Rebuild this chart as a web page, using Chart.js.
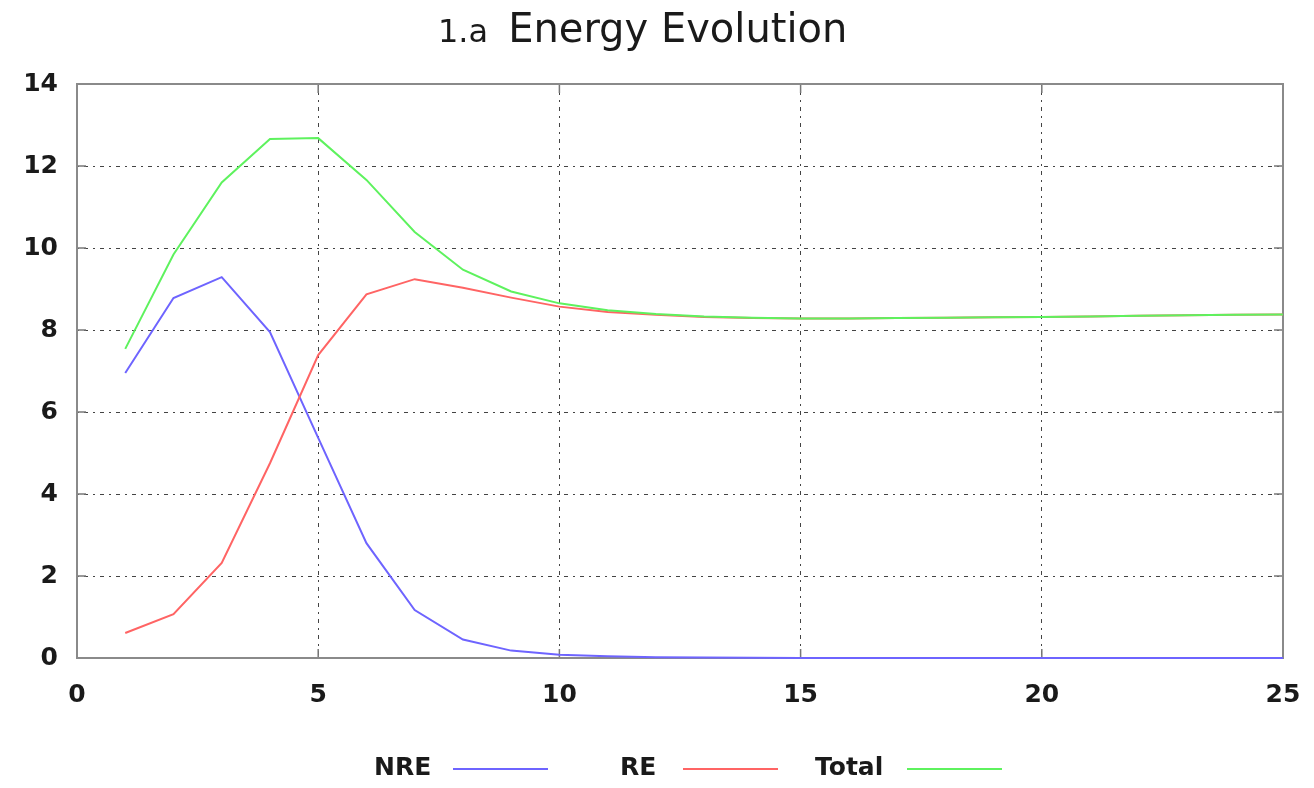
<!DOCTYPE html>
<html>
<head>
<meta charset="utf-8">
<script src="https://cdn.jsdelivr.net/npm/chart.js@4"></script>
<style>
  html, body { margin: 0; padding: 0; background: #fff; }
  #wrap { position: relative; width: 1314px; height: 788px; }
  #titulo { position: absolute; top: 5px; left: 438px; white-space: nowrap;
            font-family: "DejaVu Sans", sans-serif; color: #1a1a1a; }
  #titulo .num { font-size: 32px; }
  #titulo .txt { font-size: 40px; margin-left: 20px; }
  #leyenda { position: absolute; top: 752px; left: 0; width: 1314px; height: 34px;
             font-family: "DejaVu Sans", sans-serif; font-size: 25px; font-weight: bold; color: #1a1a1a; }
  .item { position: absolute; display: flex; align-items: center; }
  .linea { display: inline-block; height: 2px; width: 95px; }
</style>
</head>
<body>
<div id="wrap">
  <canvas id="grafica" width="1314" height="788"></canvas>
  <div id="titulo"><span class="num">1.a</span><span class="txt">Energy Evolution</span></div>
  <div id="leyenda"></div>
</div>
<script>
// Energy Evolution: NRE, RE y Total por paso de tiempo

var pasos = [1,2,3,4,5,6,7,8,9,10,11,12,13,14,15,16,17,18,19,20,21,22,23,24,25];
var nreValues = [6.95,8.78,9.29,7.95,5.37,2.80,1.17,0.45,0.18,0.08,0.04,0.02,0.01,0.005,0.003,0.002,0.001,0,0,0,0,0,0,0,0];
var reValues = [0.61,1.07,2.32,4.75,7.39,8.87,9.24,9.03,8.79,8.57,8.44,8.37,8.32,8.29,8.28,8.28,8.29,8.30,8.31,8.32,8.33,8.35,8.36,8.37,8.38];
var totalValues = [7.54,9.84,11.60,12.66,12.68,11.66,10.39,9.47,8.94,8.65,8.48,8.39,8.33,8.30,8.28,8.28,8.29,8.30,8.31,8.32,8.33,8.35,8.36,8.37,8.38];
var xTicks = [0,5,10,15,20,25];
var yTicks = [0,2,4,6,8,10,12,14];

var nombres = ["NRE", "RE", "Total"];
var colores = ["#6e64ff", "#ff6464", "#5ef25e"];
var series = [nreValues, reValues, totalValues];

function puntos(valores) {
  return pasos.map(function (p, i) { return { x: p, y: valores[i] }; });
}

// marco gris alrededor del area de la grafica + marcas hacia adentro
// (se dibuja antes de las lineas, la NRE queda encima del borde inferior)
var marco = {
  id: "marco",
  beforeDatasetsDraw: function (chart) {
    var a = chart.chartArea, ctx = chart.ctx;
    var sx = chart.scales.x, sy = chart.scales.y;
    ctx.save();
    ctx.strokeStyle = "#777";
    ctx.lineWidth = 1.5;
    xTicks.forEach(function (t) {
      var px = sx.getPixelForValue(t);
      ctx.beginPath(); ctx.moveTo(px, a.bottom); ctx.lineTo(px, a.bottom - 9); ctx.stroke();
      ctx.beginPath(); ctx.moveTo(px, a.top); ctx.lineTo(px, a.top + 9); ctx.stroke();
    });
    yTicks.forEach(function (t) {
      var py = sy.getPixelForValue(t);
      ctx.beginPath(); ctx.moveTo(a.left, py); ctx.lineTo(a.left + 9, py); ctx.stroke();
      ctx.beginPath(); ctx.moveTo(a.right, py); ctx.lineTo(a.right - 9, py); ctx.stroke();
    });
    ctx.strokeStyle = "#8a8a8a";
    ctx.lineWidth = 2;
    ctx.strokeRect(a.left, a.top, a.right - a.left, a.bottom - a.top);
    ctx.restore();
  }
};

var fuenteTicks = { family: "DejaVu Sans", size: 25, weight: "bold" };

var grafica = new Chart(document.getElementById("grafica"), {
  type: "line",
  data: {
    datasets: nombres.map(function (n, i) {
      return {
        label: n,
        data: puntos(series[i]),
        borderColor: colores[i],
        backgroundColor: colores[i],
        borderWidth: 2,
        pointRadius: 0,
        tension: 0,
        fill: false,
        clip: 2,
        order: 3 - i
      };
    })
  },
  options: {
    responsive: false,
    animation: false,
    layout: { padding: { left: 0, right: 31, top: 84, bottom: 80 } },
    plugins: {
      legend: { display: false },
      title: { display: false },
      tooltip: { enabled: false }
    },
    scales: {
      x: {
        type: "linear",
        min: 0, max: 25,
        afterBuildTicks: function (s) { s.ticks = xTicks.map(function (v) { return { value: v }; }); },
        afterFit: function (s) { s.height = 50; s.paddingLeft = 0; s.paddingRight = 0; },
        grid: { color: "#444", lineWidth: 1, drawTicks: false },
        border: { display: false, dash: [2, 5, 4, 5] },
        ticks: { padding: 22, color: "#1a1a1a", font: fuenteTicks }
      },
      y: {
        min: 0, max: 14,
        afterBuildTicks: function (s) { s.ticks = yTicks.map(function (v) { return { value: v }; }); },
        afterFit: function (s) { s.width = 77; s.paddingTop = 0; s.paddingBottom = 0; },
        grid: { color: "#444", lineWidth: 1, drawTicks: false },
        border: { display: false, dash: [2, 5, 4, 5] },
        ticks: { padding: 19, color: "#1a1a1a", font: fuenteTicks }
      }
    }
  },
  plugins: [marco]
});

// leyenda: texto y luego la linea, como en la original
var posTexto = [374, 620, 815];
var posLinea = [453, 683, 907];
var leyenda = document.getElementById("leyenda");
grafica.data.datasets.forEach(function (ds, i) {
  var txt = document.createElement("div");
  txt.className = "item";
  txt.style.left = posTexto[i] + "px";
  txt.textContent = ds.label;
  var ln = document.createElement("div");
  ln.className = "item linea";
  ln.style.left = posLinea[i] + "px";
  ln.style.top = "16px";
  ln.style.background = ds.borderColor;
  leyenda.appendChild(txt);
  leyenda.appendChild(ln);
});
</script>
</body>
</html>
